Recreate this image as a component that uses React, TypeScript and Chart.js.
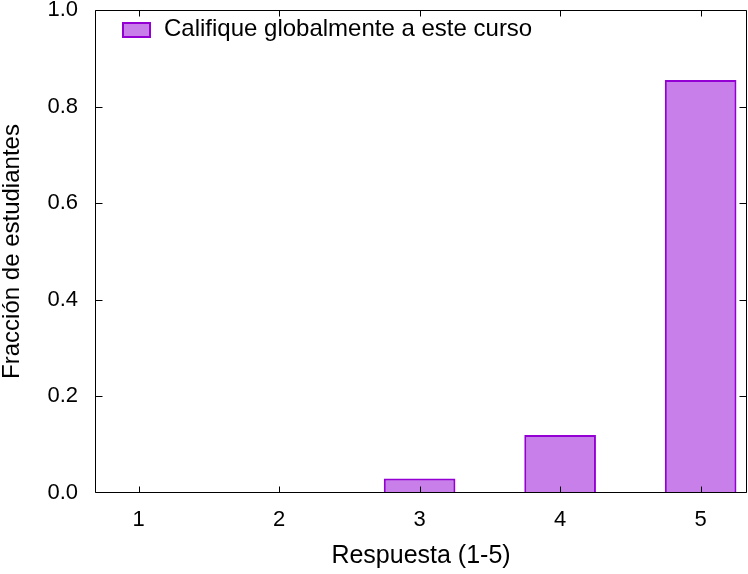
import React, { useEffect, useRef } from "react";
import { Chart, registerables } from "chart.js";

Chart.register(...registerables);

const categories = [1, 2, 3, 4, 5];
const fractions = [0, 0, 0.03, 0.12, 0.855];
const yTicks = [0, 0.2, 0.4, 0.6, 0.8, 1.0];
const seriesLabel = "Califique globalmente a este curso";
const xTitle = "Respuesta (1-5)";
const yTitle = "Fracción de estudiantes";

const FONT = "'Liberation Sans', Arial, Helvetica, sans-serif";
const FILL = "rgba(148, 0, 211, 0.5)";
const STROKE = "rgb(148, 0, 211)";

const framePlugin = {
  id: "gnuFrame",
  afterDraw(chart: any) {
    const { ctx, chartArea, scales } = chart;
    const { left, right, top, bottom } = chartArea;
    const xs = scales.x;
    const ys = scales.y;
    ctx.save();
    ctx.strokeStyle = "#000";
    ctx.lineWidth = 1;
    ctx.beginPath();
    const L = Math.round(left) + 0.5;
    const R = Math.round(right) - 0.5;
    const T = Math.round(top) + 0.5;
    const B = Math.round(bottom) - 0.5;
    ctx.rect(L, T, R - L, B - T);
    for (const v of categories) {
      const px = Math.round(xs.getPixelForValue(v)) + 0.5;
      ctx.moveTo(px, B);
      ctx.lineTo(px, B - 6);
      ctx.moveTo(px, T);
      ctx.lineTo(px, T + 6);
    }
    for (const v of yTicks) {
      const py = Math.min(B, Math.max(T, Math.round(ys.getPixelForValue(v)) + 0.5));
      ctx.moveTo(L, py);
      ctx.lineTo(L + 7, py);
      ctx.moveTo(R, py);
      ctx.lineTo(R - 7, py);
    }
    ctx.stroke();

    // legend inside plot, top-left
    const ds = chart.data.datasets[0];
    const bx = left + 28;
    const by = top + 13;
    ctx.fillStyle = ds.backgroundColor;
    ctx.fillRect(bx, by, 27, 14);
    ctx.strokeStyle = ds.borderColor;
    ctx.lineWidth = 2;
    ctx.strokeRect(bx, by, 27, 14);
    ctx.fillStyle = "#000";
    ctx.font = `24px ${FONT}`;
    ctx.textBaseline = "middle";
    ctx.textAlign = "left";
    ctx.fillText(ds.label, left + 69, top + 19);
    ctx.restore();
  },
};

export default function App() {
  const ref = useRef<HTMLCanvasElement | null>(null);

  useEffect(() => {
    document.body.style.margin = "0";
    if (!ref.current) return;
    const chart = new Chart(ref.current, {
      type: "bar",
      data: {
        datasets: [
          {
            label: seriesLabel,
            data: categories.map((c, i) => ({ x: c, y: fractions[i] })),
            backgroundColor: FILL,
            borderColor: STROKE,
            borderWidth: 2,
            barPercentage: 0.51,
            categoryPercentage: 1,
          },
        ],
      },
      options: {
        animation: false,
        responsive: false,
        maintainAspectRatio: false,
        layout: { padding: { left: 0, top: 10, right: 1, bottom: 0 } },
        font: { family: FONT, size: 22 },
        plugins: {
          legend: { display: false },
          tooltip: { enabled: false },
        },
        scales: {
          x: {
            type: "linear",
            offset: false,
            min: 0.69,
            max: 5.33,
            afterBuildTicks: (scale: any) => {
              scale.ticks = categories.map((v) => ({ value: v }));
            },
            afterFit: (scale: any) => {
              scale.height = 81;
              scale.paddingLeft = 0;
              scale.paddingRight = 0;
            },
            grid: { display: false, drawTicks: false },
            border: { display: false },
            ticks: {
              color: "#000",
              font: { family: FONT, size: 22 },
              padding: 14,
              maxRotation: 0,
              callback: (v: any) => String(v),
            },
            title: {
              display: true,
              text: xTitle,
              color: "#000",
              font: { family: FONT, size: 25, lineHeight: 1 },
              padding: { top: 0, bottom: 5 },
            },
          },
          y: {
            type: "linear",
            min: 0,
            max: 1,
            afterBuildTicks: (scale: any) => {
              scale.ticks = yTicks.map((v) => ({ value: v }));
            },
            afterFit: (scale: any) => {
              scale.width = 95;
              scale.paddingTop = 0;
              scale.paddingBottom = 0;
            },
            grid: { display: false, drawTicks: false },
            border: { display: false },
            ticks: {
              color: "#000",
              font: { family: FONT, size: 22 },
              padding: 17,
              callback: (v: any) => Number(v).toFixed(1),
            },
            title: {
              display: true,
              text: yTitle,
              color: "#000",
              font: { family: FONT, size: 24, lineHeight: 1 },
              padding: { top: 0, bottom: 0 },
            },
          },
        },
      },
      plugins: [framePlugin],
    });
    return () => chart.destroy();
  }, []);

  return (
    <div style={{ position: "absolute", left: 0, top: 0, width: 748, height: 574, background: "#fff" }}>
      <canvas ref={ref} width={748} height={574} style={{ width: 748, height: 574, display: "block" }} />
    </div>
  );
}
